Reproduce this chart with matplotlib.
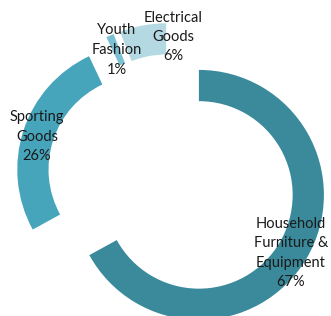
import matplotlib
matplotlib.use("Agg")
import matplotlib.pyplot as plt

categories = ["Household\nFurniture &\nEquipment", "Sporting\nGoods", "Youth\nFashion", "Electrical\nGoods"]
shares = [67, 26, 1, 6]
colors = ["#3a8a9b", "#46a4bb", "#7cc0d3", "#b5d9e3"]

# label centres in pixel coords (x from left, y from top)
label_px = [(291, 253), (37, 137), (117, 50), (173, 37)]

W, H = 331, 316
R = 125.0          # outer radius in px
cx, cy = 172, 179  # pie centre in px (y from top)

fig = plt.figure(figsize=(W / 100, H / 100), dpi=100)
ax = fig.add_axes([0, 0, 1, 1])
ax.axis("off")

ax.pie(shares, colors=colors, startangle=90, counterclock=False,
       explode=[0.25] * 4, radius=1.0,
       wedgeprops=dict(width=0.25, edgecolor="none"), frame=False)
ax.set_xlim(-cx / R, (W - cx) / R)
ax.set_ylim(-(H - cy) / R, cy / R)
ax.set_aspect("auto")

for cat, s, (px, py) in zip(categories, shares, label_px):
    ax.text(px / W, 1 - py / H, f"{cat}\n{s}%", transform=ax.transAxes,
            ha="center", va="center", fontsize=10.5, family="Lato",
            color="#1a1a1a", linespacing=1.5)

fig.savefig("out.png", dpi=100)
